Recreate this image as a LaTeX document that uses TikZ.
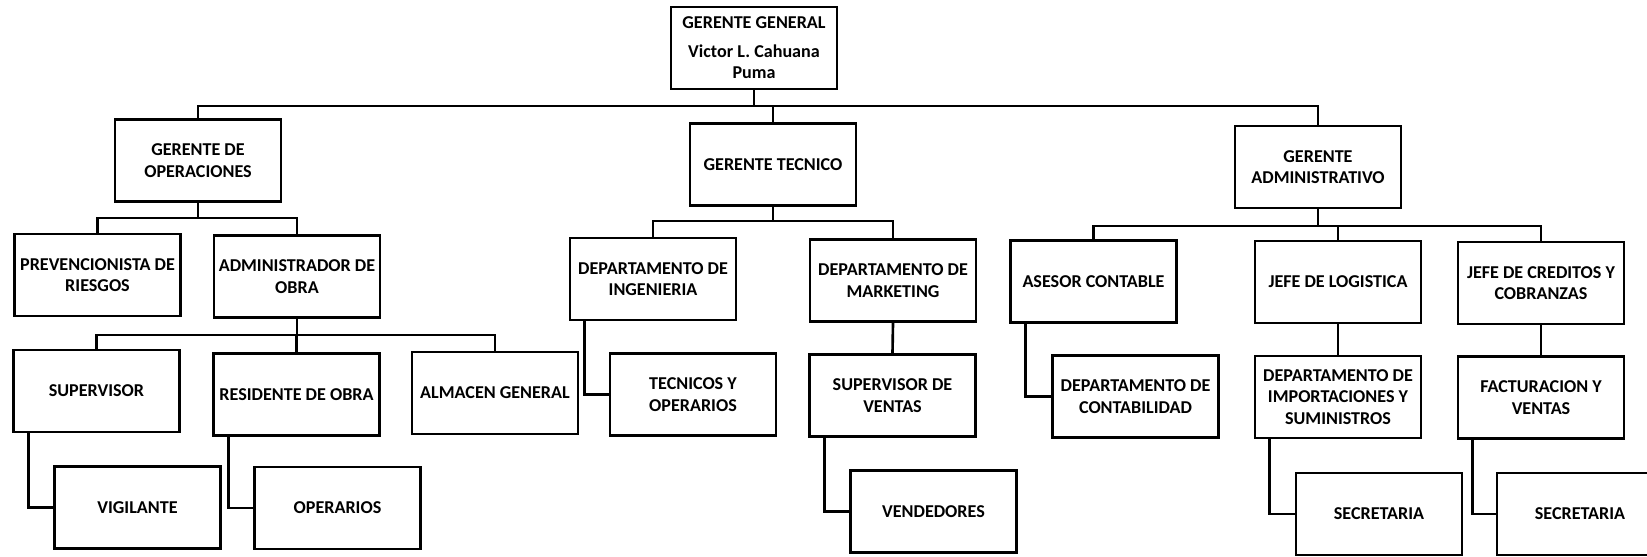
\documentclass[tikz,border=0pt]{standalone}
\usepackage{fontspec}
\setmainfont{Carlito}
\usetikzlibrary{positioning}
\tikzset{
  cargo/.style={draw,line width=1.5pt,fill=white,minimum width=3.32cm,
    minimum height=1.64cm,align=center,inner sep=2pt,
    font=\bfseries\fontsize{10.3}{12.2}\selectfont},
  enlace/.style={line width=1.5pt}
}
\begin{document}
\begin{tikzpicture}[x=0.02cm,y=-0.02cm]
      \useasboundingbox (0,0) rectangle (1647,556);
      % nivel 1
      \node[cargo] (gg) at (754,48) {GERENTE GENERAL\\[4pt]Victor L. Cahuana\\Puma};
      % nivel 2
      \node[cargo] (gop) at (198,160.5) {GERENTE DE\\OPERACIONES};
      \node[cargo] (gt) at (773,164.5) {GERENTE TECNICO};
      \node[cargo] (ga) at (1318,167) {GERENTE\\ADMINISTRATIVO};
      % nivel 3
      \node[cargo] (prev) at (97.5,275) {PREVENCIONISTA DE\\RIESGOS};
      \node[cargo] (adm) at (297,276.5) {ADMINISTRADOR DE\\OBRA};
      \node[cargo] (ing) at (653,279) {DEPARTAMENTO DE\\INGENIERIA};
      \node[cargo] (mkt) at (893,280.5) {DEPARTAMENTO DE\\MARKETING};
      \node[cargo] (ase) at (1093.5,281.5) {ASESOR CONTABLE};
      \node[cargo] (jl) at (1338,282) {JEFE DE LOGISTICA};
      \node[cargo] (jc) at (1541,283) {JEFE DE CREDITOS Y\\COBRANZAS};
      % nivel 4
      \node[cargo] (sup) at (96.5,391) {SUPERVISOR};
      \node[cargo] (res) at (296.5,394.5) {RESIDENTE DE OBRA};
      \node[cargo] (alm) at (495,393) {ALMACEN GENERAL};
      \node[cargo] (tec) at (693,394.5) {TECNICOS Y\\OPERARIOS};
      \node[cargo] (supv) at (892.5,395.5) {SUPERVISOR DE\\VENTAS};
      \node[cargo] (dcont) at (1135.5,396.5) {DEPARTAMENTO DE\\CONTABILIDAD};
      \node[cargo] (dimp) at (1338,397) {DEPARTAMENTO DE\\IMPORTACIONES Y\\SUMINISTROS};
      \node[cargo] (fac) at (1541,397.5) {FACTURACION Y\\VENTAS};
      % nivel 5
      \node[cargo] (vig) at (137.5,507.5) {VIGILANTE};
      \node[cargo] (ope) at (337.5,508) {OPERARIOS};
      \node[cargo] (ven) at (933.5,511.5) {VENDEDORES};
      \node[cargo] (sec1) at (1379,514) {SECRETARIA};
      \node[cargo] (sec2) at (1580,514) {SECRETARIA};
      % barras
      \coordinate (bus0) at (754,106);
      \coordinate (bus1) at (198,218);
      \coordinate (bus2) at (297,335);
      \coordinate (bus3) at (773,221);
      \coordinate (bus4) at (1318,226);
      \draw[enlace] (gg.south) -- (bus0);
      \draw[enlace] (bus0) -| (gop.north);
      \draw[enlace] (bus0) -| (gt.north);
      \draw[enlace] (bus0) -| (ga.north);
      \draw[enlace] (gop.south) -- (bus1);
      \draw[enlace] (bus1) -| (prev.north);
      \draw[enlace] (bus1) -| (adm.north);
      \draw[enlace] (adm.south) -- (bus2);
      \draw[enlace] (bus2) -| (sup.north);
      \draw[enlace] (bus2) -| (res.north);
      \draw[enlace] (bus2) -| (alm.north);
      \draw[enlace] (gt.south) -- (bus3);
      \draw[enlace] (bus3) -| (ing.north);
      \draw[enlace] (bus3) -| (mkt.north);
      \draw[enlace] (ga.south) -- (bus4);
      \draw[enlace] (bus4) -| (ase.north);
      \draw[enlace] (bus4) -| (jl.north);
      \draw[enlace] (bus4) -| (jc.north);
      \draw[enlace] (mkt.south) -- (supv.north);
      \draw[enlace] (jl.south) -- (dimp.north);
      \draw[enlace] (jc.south) -- (fac.north);
      % dependencias laterales
      \draw[enlace] ([xshift=0.32cm]sup.south west) |- (vig.west);
      \draw[enlace] ([xshift=0.32cm]res.south west) |- (ope.west);
      \draw[enlace] ([xshift=0.32cm]ing.south west) |- (tec.west);
      \draw[enlace] ([xshift=0.32cm]supv.south west) |- (ven.west);
      \draw[enlace] ([xshift=0.32cm]ase.south west) |- (dcont.west);
      \draw[enlace] ([xshift=0.32cm]dimp.south west) |- (sec1.west);
      \draw[enlace] ([xshift=0.32cm]fac.south west) |- (sec2.west);
    \end{tikzpicture}
\end{document}
